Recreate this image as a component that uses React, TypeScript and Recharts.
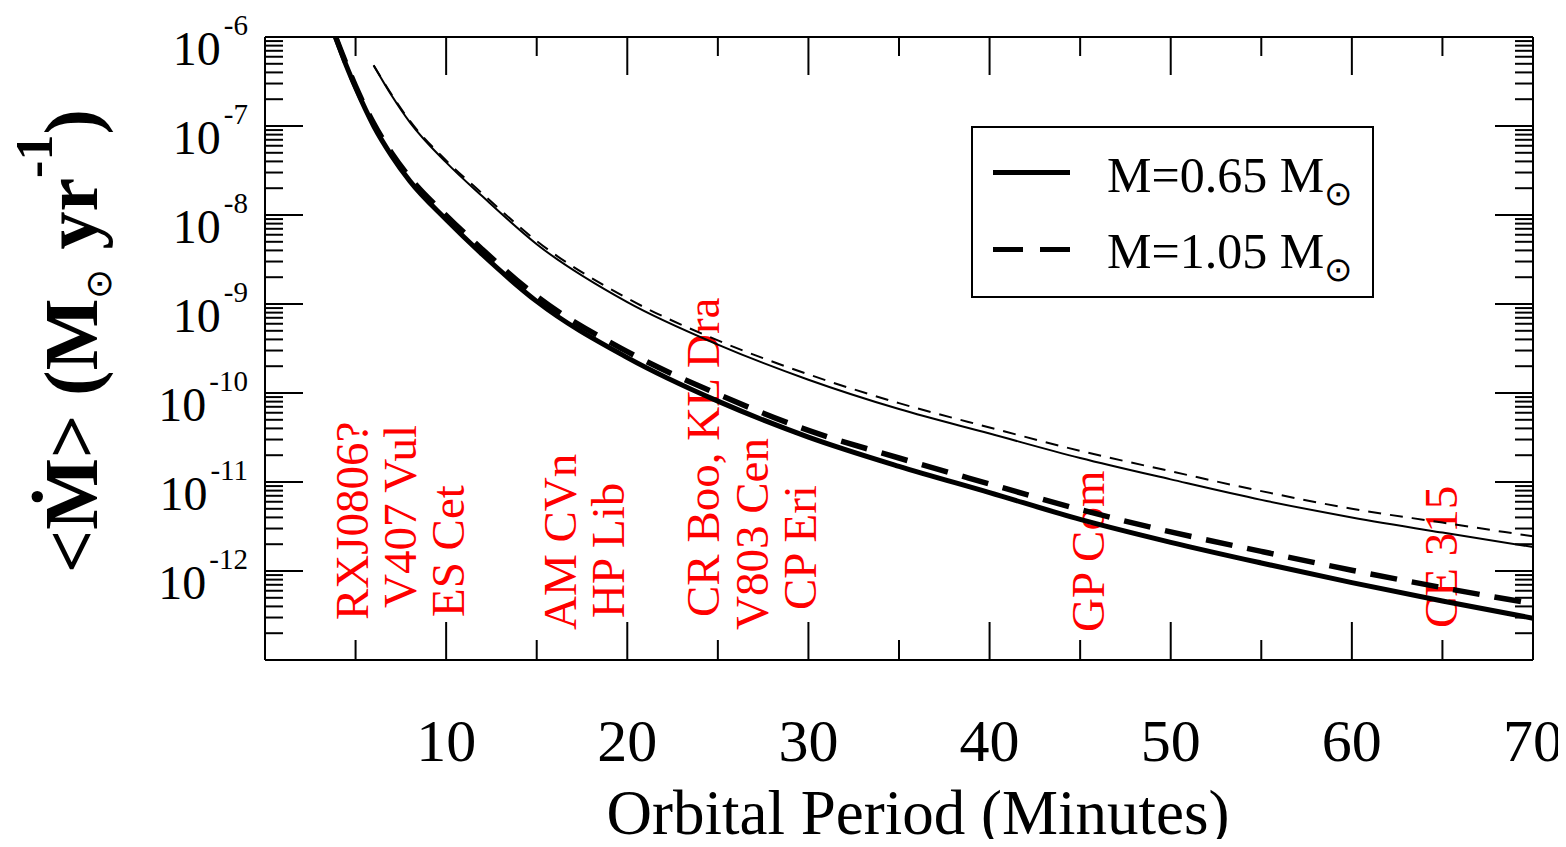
import React from 'react';
import { LineChart, Line, XAxis, YAxis, ReferenceLine, Customized } from 'recharts';

const SERIF = "'Liberation Serif', 'Times New Roman', Times, serif";

// Orbital period grids (minutes) for the model curves
const thickPeriods = [3.9, 4.5, 5, 6, 7, 8, 10, 12, 15, 20, 25, 30, 35, 40, 45, 50, 55, 60, 65, 70];
const thinPeriods = [6, 7, 8, 10, 12, 15, 20, 25, 30, 35, 40, 45, 50, 55, 60, 65, 70];

// Mean mass-transfer rate (Msun/yr), lower pair of curves
const rateThick065 = [1.0e-6, 4.7e-7, 2.7e-7, 1.0e-7, 4.6e-8, 2.4e-8, 8.9e-9, 3.6e-9, 1.07e-9, 2.5e-10, 8.1e-11, 3.2e-11, 1.5e-11, 7.6e-12, 3.8e-12, 2.1e-12, 1.23e-12, 7.4e-13, 4.6e-13, 2.95e-13];
const rateThick105 = [1.0e-6, 4.9e-7, 2.8e-7, 1.07e-7, 4.95e-8, 2.63e-8, 9.9e-9, 4.1e-9, 1.22e-9, 2.92e-10, 9.7e-11, 3.8e-11, 1.86e-11, 9.5e-12, 4.9e-12, 2.75e-12, 1.66e-12, 1.02e-12, 6.5e-13, 4.3e-13];
// Upper pair of curves
const rateThin065 = [4.8e-7, 2.19e-7, 1.1e-7, 3.9e-8, 1.62e-8, 4.7e-9, 1.05e-9, 3.5e-10, 1.41e-10, 6.6e-11, 3.5e-11, 1.86e-11, 1.07e-11, 6.3e-12, 4.0e-12, 2.7e-12, 1.86e-12];
const rateThin105 = [4.8e-7, 2.24e-7, 1.14e-7, 4.1e-8, 1.74e-8, 5.1e-9, 1.16e-9, 3.9e-10, 1.62e-10, 7.7e-11, 4.1e-11, 2.24e-11, 1.32e-11, 7.9e-12, 5.0e-12, 3.5e-12, 2.45e-12];

// Axis ticks
const xMajorTicks = [10, 20, 30, 40, 50, 60, 70];
const xMinorTicks = [5, 15, 25, 35, 45, 55, 65];
const decadeExponents = [-13, -12, -11, -10, -9, -8, -7];
const labeledExponents = [-12, -11, -10, -9, -8, -7, -6];
const minorMantissas = [2, 3, 4, 5, 6, 7, 8, 9];

// Known systems, placed at their orbital periods (minutes)
const systemNames = ['RXJ0806?', 'V407 Vul', 'ES Cet', 'AM CVn', 'HP Lib', 'CR Boo, KL Dra', 'V803 Cen', 'CP Eri', 'GP Com', 'CE 315'];
const systemPeriods = [5.7, 8.34, 11.0, 17.17, 19.81, 25.05, 27.76, 30.4, 46.3, 65.81];
// Start of each vertical label above the bottom frame (px)
const systemLabelRise = [40, 52, 43, 30, 42, 43, 30, 50, 28, 32];

const legendNames = ['M=0.65 M', 'M=1.05 M'];

const toPoints = (ps: number[], vs: number[]) => ps.map((p, i) => ({ p, v: vs[i] }));
const thick065 = toPoints(thickPeriods, rateThick065);
const thick105 = toPoints(thickPeriods, rateThick105);
const thin065 = toPoints(thinPeriods, rateThin065);
const thin105 = toPoints(thinPeriods, rateThin105);

const yTicks: number[] = [];
decadeExponents.forEach((e) => {
  yTicks.push(Math.pow(10, e));
  minorMantissas.forEach((m) => yTicks.push(m * Math.pow(10, e)));
});
yTicks.push(1e-6);
const isDecade = (v: number) => {
  const l = Math.log10(v);
  return Math.abs(l - Math.round(l)) < 1e-6;
};
const xTicks = [...xMinorTicks, ...xMajorTicks].sort((a, b) => a - b);

const W = 1566;
const H = 847;

const BottomTick = (props: any) => {
  const { x, y, payload } = props;
  const major = xMajorTicks.includes(payload.value);
  return (
    <g>
      <line x1={x} x2={x} y1={y} y2={y - (major ? 38 : 20)} stroke="#000" strokeWidth={2} />
      {major && (
        <text x={x} y={y + 101} textAnchor="middle" fontFamily={SERIF} fontSize={60} fill="#000">
          {payload.value}
        </text>
      )}
    </g>
  );
};

const TopTick = (props: any) => {
  const { x, y, payload } = props;
  const major = xMajorTicks.includes(payload.value);
  return <line x1={x} x2={x} y1={y} y2={y + (major ? 38 : 19)} stroke="#000" strokeWidth={2} />;
};

const LeftTick = (props: any) => {
  const { x, y, payload } = props;
  const major = isDecade(payload.value);
  const exp = Math.round(Math.log10(payload.value));
  return (
    <g>
      <line x1={x} x2={x + (major ? 38 : 18)} y1={y} y2={y} stroke="#000" strokeWidth={2} />
      {major && labeledExponents.includes(exp) && (
        <text x={x - 17} y={y + 28} textAnchor="end" fontFamily={SERIF} fontSize={48} fill="#000">
          10
          <tspan dx={3} dy={-30} fontSize={29}>
            {'-' + Math.abs(exp)}
          </tspan>
        </text>
      )}
    </g>
  );
};

const RightTick = (props: any) => {
  const { x, y, payload } = props;
  const major = isDecade(payload.value);
  return <line x1={x} x2={x - (major ? 38 : 18)} y1={y} y2={y} stroke="#000" strokeWidth={2} />;
};

const systemLabel = (name: string, rise: number) => (props: any) => {
  const vb = props.viewBox || {};
  const x = (vb.x || 0) + (vb.width || 0) / 2;
  const y = (vb.y || 0) + (vb.height || 0) - rise;
  return (
    <text
      x={x}
      y={y}
      transform={`rotate(-90, ${x}, ${y})`}
      textAnchor="start"
      fontFamily={SERIF}
      fontSize={47}
      fill="#ff0000"
    >
      {name}
    </text>
  );
};

const Decorations = () => (
  <g>
    {/* y-axis title */}
    <text
      x={97}
      y={573}
      transform="rotate(-90, 97, 573)"
      fontFamily={SERIF}
      fontSize={76}
      fontWeight="bold"
      fill="#000"
    >
      {'<\u1E40> (M'}
      <tspan dy={14} fontSize={36} fontWeight="normal">
        {'\u2299'}
      </tspan>
      <tspan dy={-14}>{' yr'}</tspan>
      <tspan dy={-45} fontSize={52}>
        {'-1'}
      </tspan>
      <tspan dy={45}>{')'}</tspan>
    </text>
    {/* x-axis title */}
    <text x={918} y={834} textAnchor="middle" fontFamily={SERIF} fontSize={63} fill="#000">
      Orbital Period (Minutes)
    </text>
    {/* legend */}
    <rect x={972} y={127} width={401} height={170} fill="#fff" stroke="#000" strokeWidth={2} />
    <line x1={993} x2={1070} y1={172.5} y2={172.5} stroke="#000" strokeWidth={5} />
    <line x1={993} x2={1070} y1={249.5} y2={249.5} stroke="#000" strokeWidth={5} strokeDasharray="30 17" />
    {legendNames.map((n, i) => (
      <text key={n} x={1107} y={192 + i * 76} fontFamily={SERIF} fontSize={50} fill="#000">
        {n}
        <tspan dy={13} fontSize={34}>
          {'\u2299'}
        </tspan>
      </text>
    ))}
  </g>
);

export default function App() {
  return (
    <div style={{ width: W, height: H, margin: -8, background: '#fff' }}>
      <LineChart width={W} height={H} margin={{ top: 17, right: 13, bottom: 87, left: 65 }}>
        <XAxis
          xAxisId="bottom"
          type="number"
          dataKey="p"
          domain={[0, 70]}
          ticks={xTicks}
          interval={0}
          height={100}
          tickSize={0}
          tickMargin={0}
          tickLine={false}
          axisLine={{ stroke: '#000', strokeWidth: 2 }}
          tick={BottomTick}
          allowDataOverflow
        />
        <XAxis
          xAxisId="top"
          orientation="top"
          type="number"
          dataKey="p"
          domain={[0, 70]}
          ticks={xTicks}
          interval={0}
          height={20}
          tickSize={0}
          tickMargin={0}
          tickLine={false}
          axisLine={{ stroke: '#000', strokeWidth: 2 }}
          tick={TopTick}
          allowDataOverflow
        />
        <YAxis
          yAxisId="left"
          type="number"
          scale="log"
          domain={[1e-13, 1e-6]}
          ticks={yTicks}
          interval={0}
          width={200}
          tickSize={0}
          tickMargin={0}
          tickLine={false}
          axisLine={{ stroke: '#000', strokeWidth: 2 }}
          tick={LeftTick}
          allowDataOverflow
        />
        <YAxis
          yAxisId="right"
          orientation="right"
          type="number"
          scale="log"
          domain={[1e-13, 1e-6]}
          ticks={yTicks}
          interval={0}
          width={20}
          tickSize={0}
          tickMargin={0}
          tickLine={false}
          axisLine={{ stroke: '#000', strokeWidth: 2 }}
          tick={RightTick}
          allowDataOverflow
        />
        {systemNames.map((n, i) => (
          <ReferenceLine
            key={n}
            xAxisId="bottom"
            yAxisId="left"
            x={systemPeriods[i]}
            stroke="none"
            label={systemLabel(n, systemLabelRise[i])}
          />
        ))}
        <Line
          xAxisId="bottom"
          yAxisId="left"
          data={thin065}
          dataKey="v"
          type="monotone"
          stroke="#000"
          strokeWidth={2}
          dot={false}
          isAnimationActive={false}
        />
        <Line
          xAxisId="bottom"
          yAxisId="left"
          data={thin105}
          dataKey="v"
          type="monotone"
          stroke="#000"
          strokeWidth={2}
          strokeDasharray="13 9"
          dot={false}
          isAnimationActive={false}
        />
        <Line
          xAxisId="bottom"
          yAxisId="left"
          data={thick065}
          dataKey="v"
          type="monotone"
          stroke="#000"
          strokeWidth={5}
          dot={false}
          isAnimationActive={false}
        />
        <Line
          xAxisId="bottom"
          yAxisId="left"
          data={thick105}
          dataKey="v"
          type="monotone"
          stroke="#000"
          strokeWidth={5.5}
          strokeDasharray="27 15"
          dot={false}
          isAnimationActive={false}
        />
        <Customized component={<Decorations />} />
      </LineChart>
    </div>
  );
}
